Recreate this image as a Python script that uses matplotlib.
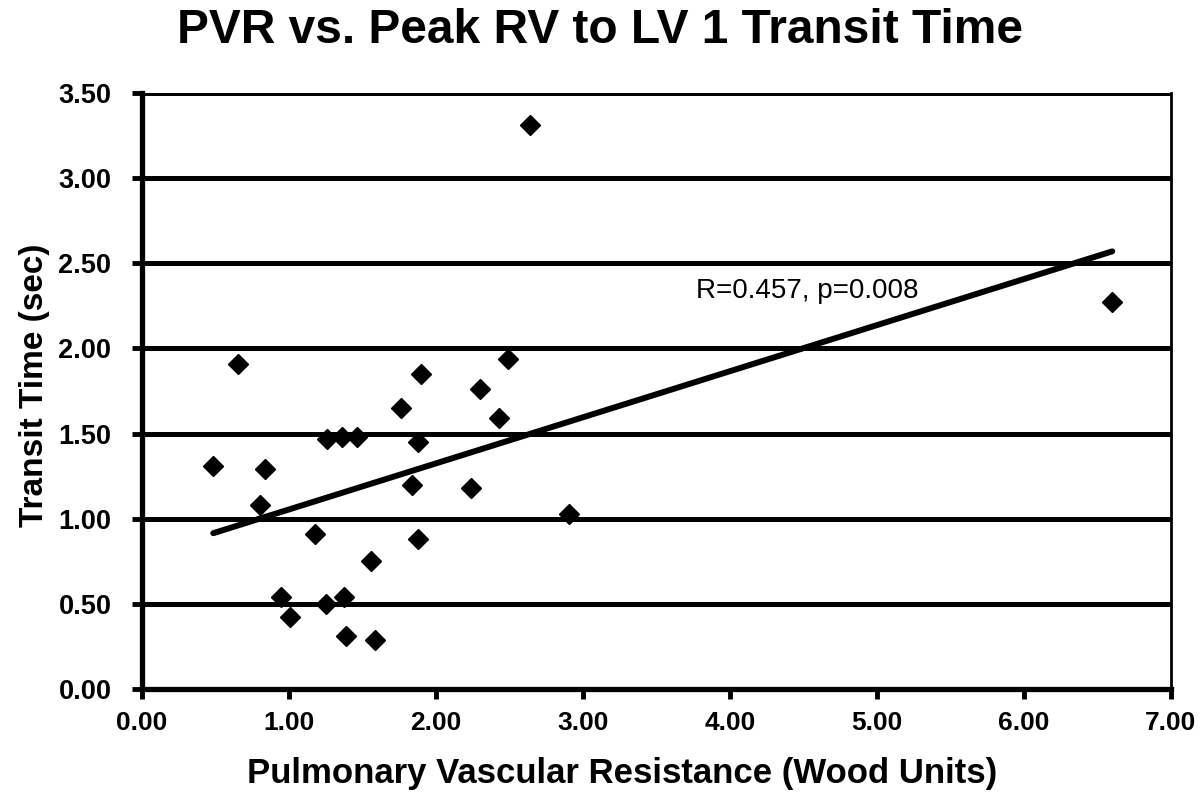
import matplotlib
matplotlib.use("Agg")
import matplotlib.pyplot as plt

# Data
pvr = [0.485, 0.65, 0.80, 0.835, 0.945, 1.005, 1.18, 1.25, 1.256, 1.358,
       1.375, 1.39, 1.46, 1.555, 1.586, 1.765, 1.84, 1.876, 1.88, 1.90,
       2.24, 2.30, 2.43, 2.49, 2.64, 2.905, 6.60]
transit = [1.31, 1.91, 1.08, 1.29, 0.54, 0.42, 0.91, 0.50, 1.47, 1.48,
           0.54, 0.31, 1.48, 0.75, 0.29, 1.65, 1.20, 0.88, 1.45, 1.85,
           1.18, 1.76, 1.59, 1.94, 3.31, 1.03, 2.27]
trend_x = [0.485, 6.60]
trend_y = [0.915, 2.57]
x_ticks = [0, 1, 2, 3, 4, 5, 6, 7]
y_ticks = [0.0, 0.5, 1.0, 1.5, 2.0, 2.5, 3.0, 3.5]
title = "PVR vs. Peak RV to LV 1 Transit Time"
xlabel = "Pulmonary Vascular Resistance (Wood Units)"
ylabel = "Transit Time (sec)"
annot = "R=0.457, p=0.008"

plt.rcParams['font.family'] = ['Liberation Sans', 'DejaVu Sans']

fig = plt.figure(figsize=(12, 7.99), dpi=100)
ax = fig.add_axes([142/1200, 1-689/799, (1171-142)/1200, (689-93)/799])

ax.set_xlim(0, 7)
ax.set_ylim(0, 3.5)

for yv in y_ticks[1:]:
    ax.axhline(yv, color='black', lw=3.6, zorder=1, solid_capstyle='butt')

ax.plot(trend_x, trend_y, color='black', lw=4.3, solid_capstyle='round', zorder=3)
ax.plot(pvr, transit, linestyle='none', marker='D', markersize=10,
        color='black', zorder=4)

ax.text(3.77, 2.34, annot, fontsize=20, va='center', ha='left', zorder=5)

ax.set_xticks(x_ticks)
ax.set_xticklabels([f"{v:.2f}" for v in x_ticks], fontsize=19, fontweight='bold')
ax.set_yticks(y_ticks)
ax.set_yticklabels([f"{v:.2f}" for v in y_ticks], fontsize=19.5, fontweight='bold')
ax.tick_params(axis='both', direction='out', length=7, width=3.5, color='black')
ax.tick_params(axis='x', pad=9)
ax.tick_params(axis='y', pad=15)

ax.spines['left'].set_linewidth(3.8)
ax.spines['bottom'].set_linewidth(3.8)
ax.spines['top'].set_visible(False)
ax.spines['right'].set_linewidth(2.0)

ax.set_xlabel(xlabel, fontsize=25, fontweight='bold')
ax.xaxis.set_label_coords((622 - 142) / 1029, -(773 - 689) / 596)
ax.xaxis.label.set_va('center')
ax.set_ylabel(ylabel, fontsize=24, fontweight='bold')
ax.yaxis.set_label_coords(-(142 - 35) / 1029, (689 - 385) / 596)
ax.yaxis.label.set_va('center')
fig.suptitle(title, fontsize=34.5, fontweight='bold', x=0.5, y=0.99, va='top')

fig.savefig("out.png", dpi=100)
